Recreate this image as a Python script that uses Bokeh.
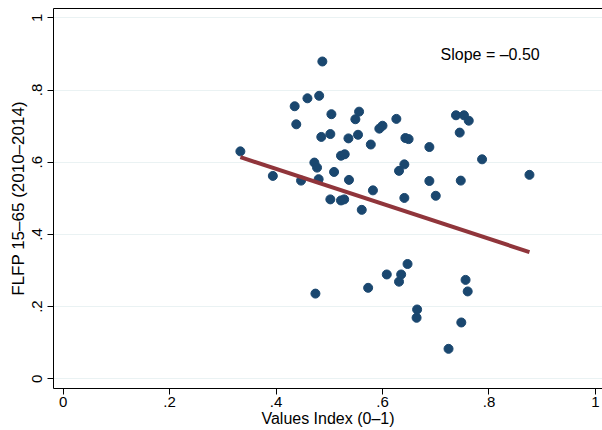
import numpy as np
from bokeh.plotting import figure
from bokeh.models import FixedTicker, LinearAxis, Range1d, ColumnDataSource
from bokeh.embed import file_html
from bokeh.resources import INLINE
from bokeh.core.properties import value

# ---- data ----
values_index = [0.333, 0.394, 0.447, 0.435, 0.438, 0.459, 0.481, 0.487, 0.485, 0.472,
                0.477, 0.480, 0.474, 0.504, 0.502, 0.509, 0.502, 0.522, 0.528, 0.522,
                0.529, 0.536, 0.537, 0.549, 0.556, 0.554, 0.561, 0.573, 0.578, 0.582,
                0.594, 0.600, 0.608, 0.626, 0.631, 0.631, 0.635, 0.641, 0.641, 0.643,
                0.649, 0.647, 0.665, 0.664, 0.688, 0.688, 0.700, 0.724, 0.738, 0.753,
                0.762, 0.745, 0.747, 0.756, 0.760, 0.748, 0.787, 0.876]
flfp = [0.630, 0.562, 0.549, 0.755, 0.705, 0.777, 0.784, 0.879, 0.670, 0.599,
        0.585, 0.553, 0.236, 0.733, 0.678, 0.573, 0.497, 0.494, 0.497, 0.618,
        0.622, 0.666, 0.551, 0.719, 0.740, 0.676, 0.468, 0.252, 0.649, 0.522,
        0.693, 0.701, 0.289, 0.720, 0.576, 0.269, 0.289, 0.594, 0.501, 0.667,
        0.664, 0.318, 0.192, 0.169, 0.642, 0.548, 0.507, 0.083, 0.730, 0.730,
        0.715, 0.682, 0.549, 0.274, 0.242, 0.156, 0.608, 0.565]
# fitted line as shown in the reference (intercept, slope)
fit_intercept = 0.775
fit_slope = -0.484
tick_values = [0, 0.2, 0.4, 0.6, 0.8, 1]
tick_labels = ["0", ".2", ".4", ".6", ".8", "1"]
x_title = "Values Index (0\u20131)"
y_title = "FLFP 15\u201365 (2010\u20132014)"
slope_label = ["Slope = \u20130.50"]
slope_pos_x = [0.709]
slope_pos_y = [0.898]

FONT = "Liberation Sans"
NAVY = "#1a476f"
MAROON = "#90353b"
GRID = "#eaf2f3"

fit_x = [min(values_index), max(values_index)]
fit_y = [fit_intercept + fit_slope * v for v in fit_x]

p = figure(width=602, height=430, output_backend="svg", toolbar_location=None,
           x_range=Range1d(-0.018, 1.0132), y_range=Range1d(-0.0269, 1.0258),
           min_border_left=53, min_border_right=0, min_border_top=8,
           min_border_bottom=42, background_fill_color="white",
           border_fill_color="white")
p.outline_line_color = None

overrides = {v: t for v, t in zip(tick_values, tick_labels)}

for ax in (p.xaxis[0], p.yaxis[0]):
    ax.ticker = FixedTicker(ticks=tick_values)
    ax.major_label_overrides = overrides
    ax.major_label_text_font = FONT
    ax.major_label_text_font_size = "15px"
    ax.major_label_text_color = "black"
    ax.axis_label_text_font = FONT
    ax.axis_label_text_font_style = "normal"
    ax.axis_label_text_color = "black"
    ax.axis_line_color = "black"
    ax.axis_line_width = 1
    ax.major_tick_line_color = "black"
    ax.major_tick_out = 6
    ax.major_tick_in = 0
    ax.minor_tick_line_color = None

p.xaxis[0].axis_label = x_title
p.xaxis[0].axis_label_text_font_size = "16px"
p.xaxis[0].major_label_standoff = 2
p.xaxis[0].axis_label_standoff = 0

p.yaxis[0].axis_label = y_title
p.yaxis[0].axis_label_text_font_size = "17px"
p.yaxis[0].major_label_orientation = "vertical"
p.yaxis[0].major_label_standoff = 5
p.yaxis[0].axis_label_standoff = 2

# top frame line
top = LinearAxis(ticker=FixedTicker(ticks=[]), major_tick_out=0, major_tick_in=0,
                 major_label_standoff=0, axis_line_color="black",
                 minor_tick_line_color=None, major_label_text_font_size="0px")
p.add_layout(top, "above")

p.xgrid.grid_line_color = None
p.ygrid.ticker = FixedTicker(ticks=tick_values)
p.ygrid.grid_line_color = GRID
p.ygrid.grid_line_width = 1.2

src = ColumnDataSource(dict(x=values_index, y=flfp))
p.scatter("x", "y", source=src, size=9, fill_color=NAVY, line_color=NAVY)
p.line(fit_x, fit_y, line_color=MAROON, line_width=4)

p.text(x=slope_pos_x, y=slope_pos_y, text=slope_label, text_font=value(FONT),
       text_font_size="16px", text_align="left", text_baseline="middle",
       text_color="black")

open("out.html", "w").write(file_html(p, INLINE))
